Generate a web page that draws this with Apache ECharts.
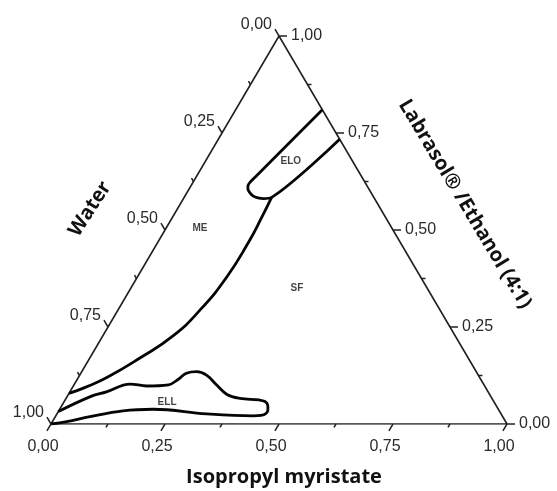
<!DOCTYPE html>
<html>
<head>
<meta charset="utf-8">
<script src="https://cdn.jsdelivr.net/npm/echarts@6/dist/echarts.min.js"></script>
<style>html,body{margin:0;padding:0;background:#fff;}#chart{width:557px;height:491px;}</style>
</head>
<body>
<div id="chart"></div>
<script>
// Compositions are [Isopropyl myristate, Labrasol/Ethanol (4:1), Water]
const axisTitles = ['Isopropyl myristate', 'Labrasol® /Ethanol (4:1)', 'Water'];
const majorTicks = [0, 0.25, 0.5, 0.75, 1];
const minorTicks = [0.125, 0.375, 0.625, 0.875];
const tickLabels = ['0,00', '0,25', '0,50', '0,75', '1,00'];

const eloBoundary = [
  [0.190, 0.810, 0.000],
  [0.1295, 0.636, 0.2345],
  [0.1254, 0.624, 0.2506],
  [0.1247, 0.615, 0.2603],
  [0.1287, 0.606, 0.2653],
  [0.137, 0.597, 0.266],
  [0.149, 0.588, 0.263],
  [0.1624, 0.583, 0.2546],
  [0.1756, 0.581, 0.2434],
  [0.1918, 0.584, 0.2242],
  [0.266, 0.734, 0.000]
];
const meSfBoundary = [
  [0.1918, 0.584, 0.2242],
  [0.196, 0.531, 0.273],
  [0.199, 0.469, 0.332],
  [0.196, 0.379, 0.425],
  [0.180, 0.294, 0.526],
  [0.154, 0.227, 0.619],
  [0.110, 0.170, 0.720],
  [0.064, 0.121, 0.815],
  [0.029, 0.095, 0.876],
  [0.000, 0.079, 0.921]
];
const ellBoundary = [
  [0.000, 0.032, 0.968],
  [0.050, 0.070, 0.880],
  [0.080, 0.083, 0.837],
  [0.122, 0.103, 0.775],
  [0.161, 0.098, 0.741],
  [0.207, 0.101, 0.692],
  [0.222, 0.116, 0.662],
  [0.2315, 0.131, 0.6375],
  [0.252, 0.135, 0.613],
  [0.278, 0.126, 0.596],
  [0.313, 0.1005, 0.5865],
  [0.348, 0.076, 0.576],
  [0.381, 0.066, 0.553],
  [0.425, 0.062, 0.513],
  [0.4403, 0.058, 0.5017],
  [0.4507, 0.049, 0.5003],
  [0.4572, 0.037, 0.5058],
  [0.458, 0.027, 0.515],
  [0.4496, 0.022, 0.5284],
  [0.4327, 0.021, 0.5463],
  [0.3285, 0.026, 0.6455],
  [0.205, 0.038, 0.757],
  [0.141, 0.034, 0.825],
  [0.076, 0.019, 0.905],
  [0.0315, 0.006, 0.9625],
  [0.000, 0.000, 1.000]
];
const regionNames = ['ME', 'ELO', 'SF', 'ELL'];
const regionPositions = [
  [0.074, 0.505, 0.421],
  [0.187, 0.678, 0.135],
  [0.364, 0.351, 0.285],
  [0.226, 0.057, 0.717]
];
const vertices = [
  [0, 0, 1],
  [1, 0, 0],
  [0, 1, 0],
  [0, 0, 1]
];

// ternary -> cartesian (x, y) in the unit triangle
function toXY(c) { return [c[0] + c[1] / 2, c[1]]; }

const s3 = Math.hypot(229, 388);
const edges = [
  { // bottom: Isopropyl myristate, value = I
    point: v => toXY([v, 0, 1 - v]),
    dir: [-229 / s3, 388 / s3],
    label: (p) => ({ x: p[0] - 8, y: p[1] + 23, align: 'center' })
  },
  { // right: Labrasol/Ethanol, value = L
    point: v => toXY([1 - v, v, 0]),
    dir: [1, 0],
    label: (p) => ({ x: p[0] + 12, y: p[1], align: 'left' })
  },
  { // left: Water, value = W
    point: v => toXY([0, 1 - v, v]),
    dir: [-227 / s3, -388 / s3],
    label: (p) => ({ x: p[0] - 7, y: p[1] - 11, align: 'right' })
  }
];

function tickSeries(edge, values, major) {
  return {
    type: 'custom', coordinateSystem: 'cartesian2d', silent: true, z: 4,
    data: values.map(v => edge.point(v)),
    renderItem: function (params, api) {
      const p = api.coord([api.value(0), api.value(1)]);
      const len = major ? 8 : 4;
      const children = [{
        type: 'line',
        shape: { x1: p[0], y1: p[1], x2: p[0] + edge.dir[0] * len, y2: p[1] + edge.dir[1] * len },
        style: { stroke: '#222', lineWidth: 1.5 }
      }];
      if (major) {
        const l = edge.label(p);
        children.push({
          type: 'text',
          style: {
            text: tickLabels[params.dataIndex], x: l.x, y: l.y,
            textAlign: l.align, textVerticalAlign: 'middle',
            fill: '#2a2a2a', font: '16px "Liberation Sans", Arial, sans-serif'
          }
        });
      }
      return { type: 'group', children: children };
    }
  };
}

const curveStyle = { color: '#050505', width: 2.8 };
function curve(name, data, smooth) {
  return {
    name: name, type: 'line', data: data.map(toXY), smooth: smooth,
    showSymbol: false, symbol: 'none', lineStyle: curveStyle, z: 3, silent: true
  };
}

const series = [
  {
    type: 'line', data: vertices.map(toXY), showSymbol: false, symbol: 'none',
    lineStyle: { color: '#222', width: 1.6 }, z: 2, silent: true
  },
  curve('ELO', eloBoundary, 0.3),
  curve('ME/SF', meSfBoundary, 0.5),
  curve('ELL', ellBoundary, 0.4),
  {
    type: 'scatter', symbolSize: 0, silent: true, z: 5,
    data: regionPositions.map((c, i) => ({ value: toXY(c), name: regionNames[i] })),
    label: {
      show: true, position: 'inside', formatter: '{b}', color: '#111',
      fontSize: 10, fontWeight: 'bold', fontFamily: '"Liberation Sans", Arial, sans-serif'
    }
  }
];
edges.forEach(e => {
  series.push(tickSeries(e, majorTicks, true));
  series.push(tickSeries(e, minorTicks, false));
});

const chart = echarts.init(document.getElementById('chart'), null, { renderer: 'canvas' });
const titleFont = 'bold 20px "Open Sans", "DejaVu Sans", sans-serif';
chart.setOption({
  animation: false,
  backgroundColor: '#fff',
  grid: { left: 51, right: 50, top: 36, bottom: 67 },
  xAxis: { type: 'value', min: 0, max: 1, show: false },
  yAxis: { type: 'value', min: 0, max: 1, show: false },
  series: series,
  graphic: [
    { type: 'text', x: 284, y: 477, style: { text: axisTitles[0], font: titleFont, fill: '#111', textAlign: 'center', textVerticalAlign: 'middle' } },
    { type: 'text', x: 465, y: 204, rotation: -59 * Math.PI / 180, style: { text: axisTitles[1], font: titleFont, fill: '#111', textAlign: 'center', textVerticalAlign: 'middle' } },
    { type: 'text', x: 90, y: 209, rotation: 57 * Math.PI / 180, style: { text: axisTitles[2], font: titleFont, fill: '#111', textAlign: 'center', textVerticalAlign: 'middle' } }
  ]
});
</script>
</body>
</html>
